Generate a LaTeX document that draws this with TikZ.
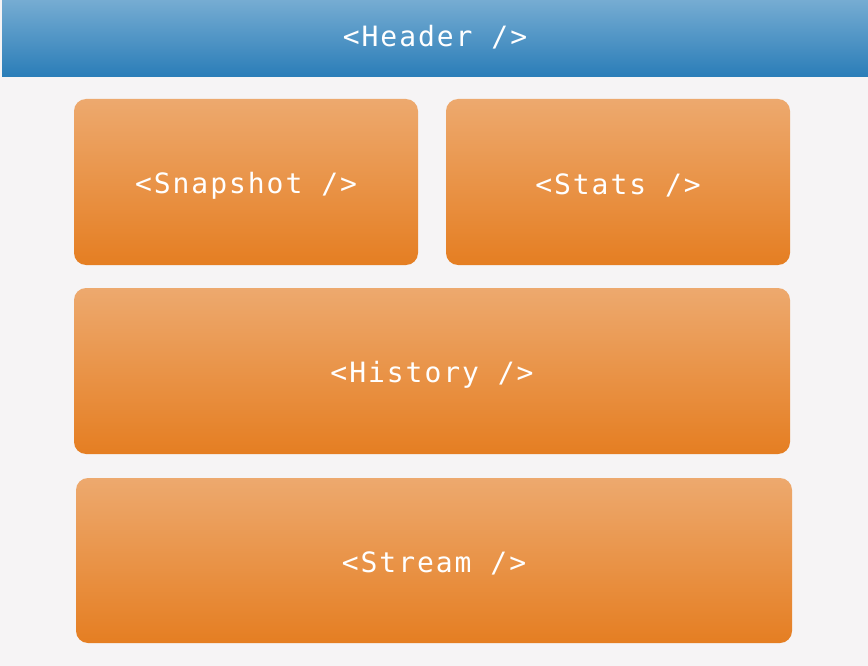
\documentclass[tikz,border=0pt]{standalone}
\usepackage{fontspec}
\newfontfamily\codefont[LetterSpace=7]{DejaVu Sans Mono}
\newcommand{\shiftlbl}[2]{\raisebox{#1}[\height][\depth]{#2}}
\definecolor{bgc}{HTML}{F6F4F5}
\definecolor{htop}{HTML}{76ACD2}
\definecolor{hbot}{HTML}{2A7DB8}
\definecolor{otop}{HTML}{EDA96E}
\definecolor{obot}{HTML}{E57E22}
\tikzset{
  comp/.style={rounded corners=12pt, top color=otop, bottom color=obot, draw=none,
    inner sep=0pt, text=white, font=\codefont\fontsize{28}{32}\selectfont},
  hdr/.style={top color=htop, bottom color=hbot, draw=none, inner sep=0pt,
    text=white, font=\codefont\fontsize{28}{32}\selectfont}
}
\begin{document}
\begin{tikzpicture}[x=1pt,y=-1pt]
\fill[bgc] (0,0) rectangle (868,666);
\useasboundingbox (0,0) rectangle (868,666);
\node[hdr, minimum width=866pt, minimum height=77pt] (header) at (435,38.5) {\shiftlbl{1pt}{<Header />}};
\node[comp, minimum width=344pt, minimum height=166pt] (snapshot) at (246,182) {\shiftlbl{-4pt}{<Snapshot />}};
\node[comp, minimum width=344pt, minimum height=166pt] (stats) at (618,182) {\shiftlbl{-3pt}{<Stats />}};
\node[comp, minimum width=716pt, minimum height=166pt] (history) at (432,371) {\shiftlbl{-4pt}{<History />}};
\node[comp, minimum width=716pt, minimum height=165pt] (stream) at (434,560.5) {\shiftlbl{-3pt}{<Stream />}};
\end{tikzpicture}
\end{document}
